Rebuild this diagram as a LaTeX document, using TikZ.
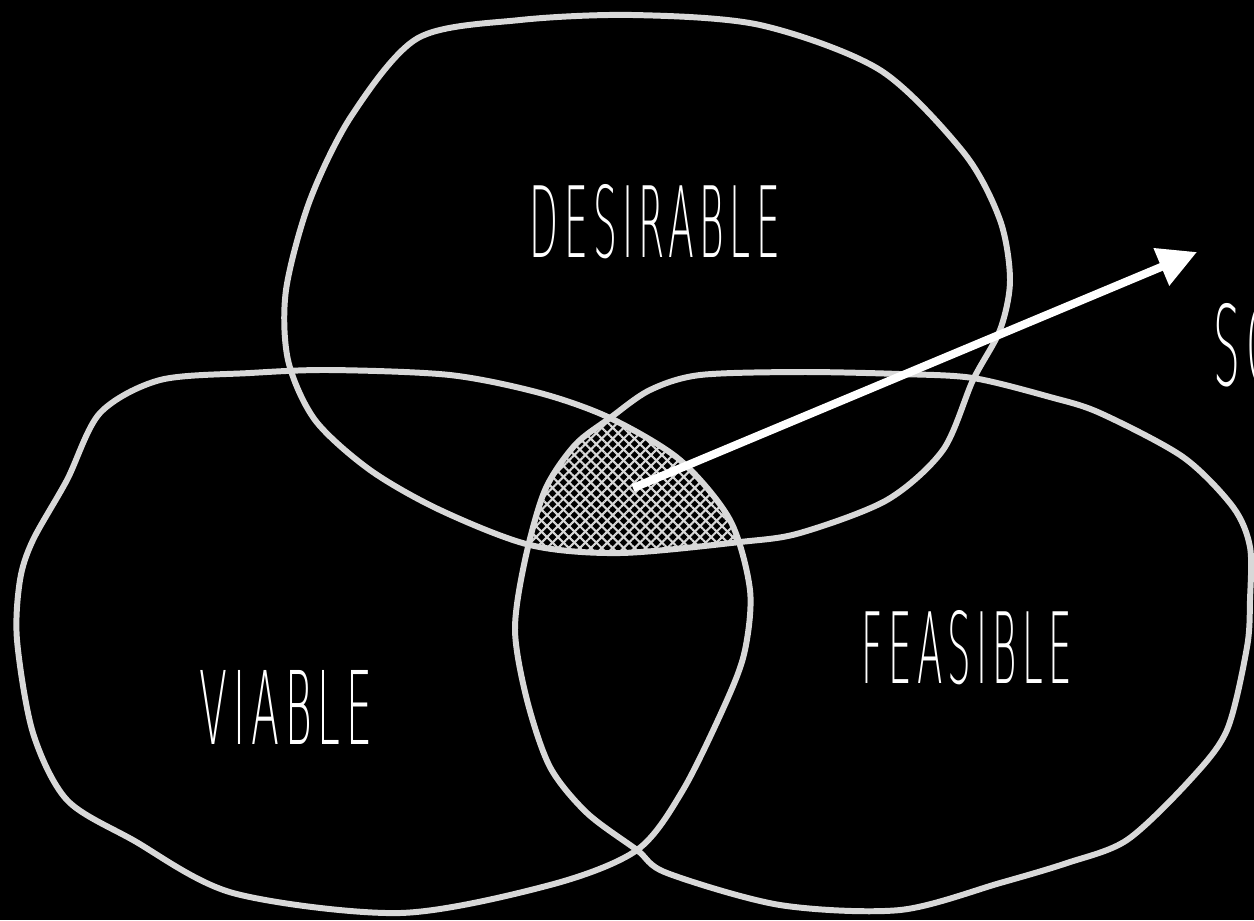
\documentclass[tikz,border=0pt]{standalone}
\usepackage{fontspec}
\usepackage{graphicx}
\usepackage{tikz}
\usetikzlibrary{arrows.meta, patterns.meta}
\newfontfamily\handfont{DejaVu Sans ExtraLight}[LetterSpace=14]
\definecolor{chalk}{HTML}{D8D8D8}
\definecolor{board}{HTML}{000000}
% squeeze a word into a given width and height (cm)
\newcommand{\handword}[3]{\resizebox{#1cm}{#2cm}{\handfont #3}}

\begin{document}
\begin{tikzpicture}[x=0.01cm, y=-0.01cm, >=Stealth,
    blob/.style={draw=chalk, line width=1.7pt},
    word/.style={text=white, inner sep=0pt},
    hatch/.style={pattern={Lines[angle=#1, distance=2.2pt, line width=0.6pt]},
        pattern color=chalk}]
    \fill[board] (0,0) rectangle (1254,920);
    \clip (0,0) rectangle (1254,920);

    \def\desirable{plot[smooth cycle] coordinates {(418,38) (520,20) (633,15)
        (760,25) (880,70) (964,153) (1000,220) (1010,280) (1000,330) (973,380)
        (943,450) (887,500) (800,533) (740,542) (620,553) (530,545) (440,510)
        (370,470) (315,420) (288,360) (286,290) (310,200) (352,115)}}
    \def\viable{plot[smooth cycle] coordinates {(160,380) (250,373) (330,370)
        (450,375) (540,393) (610,418) (680,460) (730,520) (750,590) (745,650)
        (727,700) (683,790) (637,850) (550,885) (400,913) (233,893) (133,840)
        (67,800) (33,733) (17,640) (20,580) (33,540) (67,480) (100,413)}}
    \def\feasible{plot[smooth cycle] coordinates {(700,375) (800,372) (900,374)
        (973,378) (1050,397) (1100,413) (1183,457) (1233,507) (1250,547)
        (1250,600) (1247,647) (1227,730) (1190,780) (1127,840) (1067,863)
        (1000,883) (900,910) (780,905) (667,873) (637,850) (587,813) (550,767)
        (527,700) (515,630) (525,560) (545,490) (575,445) (610,418) (650,390)}}

    % overlap of all three
    \begin{scope}
        \clip \desirable;
        \clip \viable;
        \fill[hatch=45] \feasible;
        \fill[hatch=-45] \feasible;
    \end{scope}

    \draw[blob] \desirable;
    \draw[blob] \viable;
    \draw[blob] \feasible;

    \node[word] (desirable) at (655,222) {\handword{2.50}{0.73}{DESIRABLE}};
    \node[word] (viable) at (286,707) {\handword{1.72}{0.74}{VIABLE}};
    \node[word] (feasible) at (967,648) {\handword{2.10}{0.73}{FEASIBLE}};
    \node[word, anchor=west] (so) at (1213,345) {\handword{0.66}{0.82}{SO}};

    \coordinate (sweet) at (633,488);
    \coordinate (aim) at (1197,252);
    \draw[white, line width=2.3pt, -{Triangle[length=11pt, width=11pt]}]
        (sweet) -- (aim);
\end{tikzpicture}
\end{document}
